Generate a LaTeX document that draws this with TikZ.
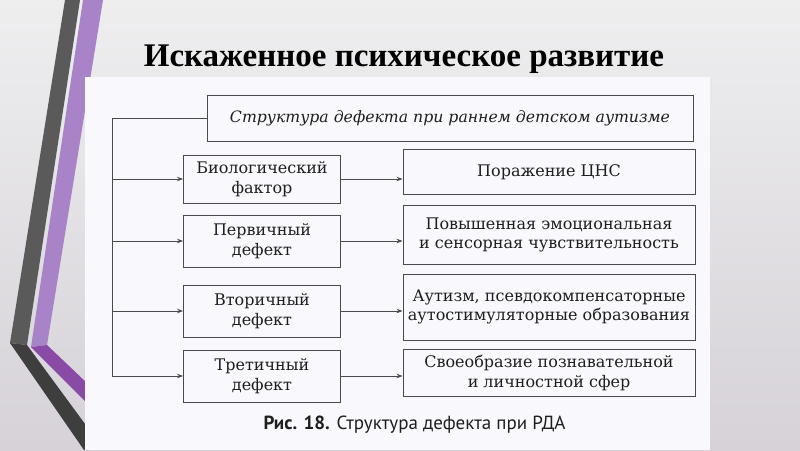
\documentclass[tikz,border=0pt]{standalone}
\usepackage{fontspec}
\setmainfont{DejaVu Serif}
\newfontfamily\titlefont{Liberation Serif}
\newfontfamily\capfont{PT Sans}
\usetikzlibrary{arrows.meta}
\definecolor{slidetop}{HTML}{EEEEEF}
\definecolor{slidebot}{HTML}{D6D2D8}
\definecolor{paper}{HTML}{F9F8FC}
\definecolor{stripegray}{HTML}{5A5A5A}
\definecolor{stripedark}{HTML}{3E3E3E}
\definecolor{stripelilac}{HTML}{A983C7}
\definecolor{stripeplum}{HTML}{8A4BA7}
\definecolor{boxline}{HTML}{4A4A4A}
\definecolor{boxtext}{HTML}{1E1E1E}
\tikzset{
  defbox/.style={draw=boxline, line width=0.9pt, text=boxtext, align=center,
    inner sep=0pt, font=\fontsize{16}{19.5}\selectfont},
  leftbox/.style={defbox, minimum width=157pt},
  rightbox/.style={defbox, minimum width=292pt},
  link/.style={draw=boxline, line width=0.9pt}
}
\begin{document}
\begin{tikzpicture}[x=1pt, y=-1pt, >={Stealth[length=6pt, width=4.5pt]}]
	\useasboundingbox (0,0) rectangle (800,450);
	\shade [top color=slidetop, bottom color=slidebot] (0,0) rectangle (800,450);
	% stripes on the left
	\fill [stripegray] (65,0) -- (80,0) -- (27,345) -- (10,343) -- cycle;
	\fill [stripedark] (10,343) -- (27,345) -- (88,428) -- (88,450) -- (84,450) -- cycle;
	\fill [stripelilac] (83,0) -- (103,0) -- (47,345) -- (31,347) -- cycle;
	\fill [stripeplum] (31,347) -- (47,345) -- (88,384) -- (88,404) -- cycle;
	\fill [paper] (85,77) rectangle (710,450);
	\node [anchor=base, font=\titlefont\bfseries\fontsize{33}{36}\selectfont] (title) at (404,66) {Искаженное психическое развитие};
	% boxes
	\node [defbox, minimum width=486pt, minimum height=46pt, font=\itshape\fontsize{15.7}{18}\selectfont] (head) at (450,118) {Структура дефекта при раннем детском аутизме};
	\node [leftbox, minimum height=48pt] (bio) at (262,179) {Биологический\\фактор};
	\node [leftbox, minimum height=52pt] (prim) at (262,241) {Первичный\\дефект};
	\node [leftbox, minimum height=52pt] (sec) at (262,311) {Вторичный\\дефект};
	\node [leftbox, minimum height=52pt] (tert) at (262,376) {Третичный\\дефект};
	\node [rightbox, minimum height=45pt] (cns) at (549,172) {Поражение ЦНС};
	\node [rightbox, minimum height=59pt] (emo) at (549,235) {Повышенная эмоциональная\\и сенсорная чувствительность};
	\node [rightbox, minimum height=66pt] (aut) at (549,307) {Аутизм, псевдокомпенсаторные\\аутостимуляторные образования};
	\node [rightbox, minimum height=47pt] (cog) at (549,373) {Своеобразие познавательной\\и личностной сфер};
	% connectors
	\coordinate (spine) at (112,118);
	\draw [link] (head.west) -- (spine) -- (spine |- tert.west);
	\foreach \n in {bio, prim, sec, tert}
		\draw [link, ->] (spine |- \n.west) -- (\n.west);
	\foreach \a/\b in {bio/cns, prim/emo, sec/aut, tert/cog}
		\draw [link, ->] (\a.east) -- (\a.east -| \b.west);
	\node [anchor=base west, text=boxtext, font=\capfont\fontsize{19}{22}\selectfont] (caption) at (260,429) {\textbf{Рис. 18.} Структура дефекта при РДА};
\end{tikzpicture}
\end{document}
